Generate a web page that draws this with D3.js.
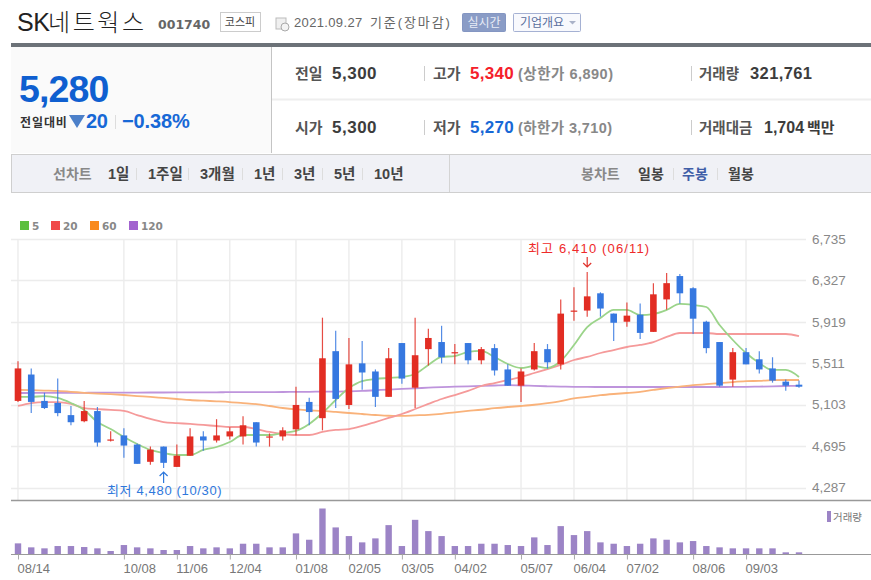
<!DOCTYPE html>
<html>
<head>
<meta charset="utf-8">
<script src="https://cdnjs.cloudflare.com/ajax/libs/d3/7.8.5/d3.min.js"></script>
<style>
  html, body { margin: 0; padding: 0; background: #fff; }
  svg { display: block; font-family: "Liberation Sans", "Noto Sans CJK KR", sans-serif; }
  svg text { font-family: "Liberation Sans", "Noto Sans CJK KR", sans-serif; }
  .domain { display: none; }
</style>
</head>
<body>
<div class="main"></div>
<script>
const w = 871;
const h = 580;

// weekly candles
const open = [5140,5400,5140,5120,5000,4940,5040,4750,4800,4710,4540,4690,4490,4600,4790,4750,4790,4790,4930,4780,4790,4860,5130,4970,5630,5100,5510,5430,5180,5710,5270,5650,5720,5610,5710,5540,5660,5450,5290,5450,5650,5500,6020,6030,6200,6000,5920,5990,5820,6140,6370,6250,5920,5720,5350,5620,5550,5460,5330,5300];
const high = [5530,5460,5220,5360,5090,5140,5080,4840,4870,4720,4690,4690,4710,4870,4840,4960,4880,4990,4930,4820,4880,5280,5170,5960,5830,5760,5730,5450,5660,5710,5960,5850,5880,5700,5710,5670,5700,5500,5460,5710,5700,6140,6260,6410,6210,6000,6110,6100,6300,6400,6390,6260,5930,5720,5660,5660,5630,5570,5350,5340];
const low = [5130,5020,5060,4990,4900,4930,4690,4740,4580,4520,4510,4480,4490,4600,4650,4730,4760,4710,4690,4690,4750,4800,4900,4850,5070,5060,5250,5080,5180,5310,5070,5490,5510,5500,5500,5500,5390,5290,5130,5440,5460,5450,5930,5970,5970,5730,5870,5750,5820,6040,6100,5800,5610,5280,5280,5500,5410,5320,5240,5270];
const close = [5460,5130,5070,5020,4930,5040,4730,4760,4700,4520,4660,4530,4600,4790,4750,4800,4840,4900,4730,4790,4850,5100,5030,5560,5160,5500,5420,5180,5560,5360,5590,5760,5570,5620,5540,5650,5440,5290,5430,5630,5520,6000,6030,6170,6050,5910,5980,5810,6190,6300,6200,5950,5660,5290,5620,5500,5450,5340,5290,5280];

const ma5 = [5179,5179,5188,5169,5119,5051,4932,4863,4785,4716,4657,4627,4607,4607,4657,4686,4735,4804,4804,4804,4824,4844,4913,5021,5149,5267,5336,5356,5366,5376,5405,5494,5573,5582,5622,5632,5573,5504,5464,5484,5464,5533,5691,5868,5957,6036,6036,5986,5996,6036,6095,6085,6065,5888,5740,5612,5513,5445,5445,5376];
const ma20 = [5090,5119,5129,5129,5110,5070,5060,5051,5041,5001,4962,4932,4922,4913,4903,4893,4883,4883,4863,4834,4814,4804,4804,4834,4854,4863,4893,4932,4972,5011,5060,5110,5159,5198,5238,5287,5316,5346,5376,5415,5454,5494,5543,5573,5612,5641,5671,5691,5720,5770,5809,5809,5809,5799,5799,5799,5799,5799,5799,5779];
const ma60 = [5248,5246,5242,5238,5230,5220,5212,5206,5198,5188,5179,5169,5159,5149,5142,5136,5129,5119,5108,5090,5070,5056,5048,5041,5031,5021,5011,5001,4994,4993,4998,5003,5013,5028,5041,5053,5068,5080,5090,5102,5119,5139,5165,5180,5196,5208,5218,5230,5248,5265,5280,5295,5305,5316,5326,5334,5338,5344,5346,5346];
const ma120 = [5218,5218,5219,5219,5220,5220,5221,5221,5222,5222,5223,5223,5224,5224,5225,5225,5226,5226,5227,5227,5228,5229,5230,5231,5232,5234,5238,5245,5252,5258,5264,5270,5276,5280,5284,5288,5292,5295,5292,5288,5284,5281,5279,5278,5277,5277,5277,5277,5277,5277,5277,5277,5277,5277,5278,5279,5281,5284,5287,5288];

// volume in thousands of shares
const volume = [2030,1270,1080,1520,1520,1330,1080,570,1710,1270,1080,760,760,1520,1080,1270,1080,1960,1960,1270,1270,3930,2720,8680,5070,3420,2220,2980,5510,1520,6520,4370,3420,1520,1520,1960,1960,1710,1520,3170,1710,5320,3610,4370,2220,1960,1520,1960,2980,2720,2220,2470,1520,1270,1080,1080,1080,1080,320,320];

const priceTicks = [6735,6327,5919,5511,5103,4695,4287];
const dateIndex = [0,8,12,16,21,25,29,33,38,42,46,51,55];
const dateLabels = ['08/14','10/08','11/06','12/04','01/08','02/05','03/05','04/02','05/07','06/04','07/02','08/06','09/03'];

const legendNames = ['5','20','60','120'];
const legendColors = ['#5cbf3f','#f04a4a','#f98a1c','#a263cf'];
const lineColors = ['#9bd48a','#f59a9a','#f9b27a','#be94dc'];
const periods = ['1일','1주일','3개월','1년','3년','5년','10년'];
const candleTypes = ['일봉','주봉','월봉'];

const RED = '#e22d23';
const BLUE = '#3678e0';

const svg = d3.select('.main').append('svg').attr('width', w).attr('height', h);

function label(x, y, str, size, fill, weight, anchor) {
  return svg.append('text')
    .attr('x', x).attr('y', y)
    .attr('font-size', size)
    .attr('fill', fill)
    .attr('font-weight', weight || 'normal')
    .attr('text-anchor', anchor || 'start')
    .text(str);
}
function box(x, y, bw, bh, fill, stroke) {
  return svg.append('rect')
    .attr('x', x).attr('y', y).attr('width', bw).attr('height', bh)
    .attr('fill', fill).attr('stroke', stroke || 'none');
}
function rule(x1, y1, x2, y2, stroke, sw) {
  return svg.append('line')
    .attr('x1', x1).attr('y1', y1).attr('x2', x2).attr('y2', y2)
    .attr('stroke', stroke).attr('stroke-width', sw || 1);
}

// title row
const title = label(17, 31, '', 24, '#222', 300);
title.append('tspan').attr('letter-spacing', -0.4).attr('font-size', 25).text('SK');
title.append('tspan').attr('x', 48).attr('letter-spacing', 2.6).text('네트웍스');
label(158, 29, '001740', 12.5, '#666', 'bold').style('font-family', 'DejaVu Sans');
box(220.5, 12.5, 40, 19, '#fff', '#ccc');
label(240, 26, '코스피', 11, '#444', 'normal', 'middle');
box(276, 18, 10, 11, '#f0f0f0', '#bbb');
svg.append('circle').attr('cx', 285).attr('cy', 27).attr('r', 4).attr('fill', '#f4f4f4').attr('stroke', '#aaa');
label(294, 27, '2021.09.27', 13, '#666').attr('letter-spacing', 0.35);
label(370, 27, '기준(장마감)', 13, '#666').attr('letter-spacing', 1.9);
box(462.5, 13.5, 43, 18, '#8a9cc6', '#8496c2').attr('rx', 1);
label(484, 27, '실시간', 12, '#e8ecf6', 'normal', 'middle');
box(513.5, 13.5, 67, 18, '#f8f9fd', '#a5b1d3').attr('rx', 1);
label(520, 27, '기업개요', 12, '#5a6f9e');
svg.append('path').attr('d', 'M569 21 h7 l-3.5 3.5 z').attr('fill', '#aab2c8');

// quote panel
box(11, 47, 260, 106, '#fafafa');
box(11, 43, 860, 4, '#6c7278');
rule(271.5, 47, 271.5, 153, '#c4c4c4');
rule(272, 99.5, 871, 99.5, '#eee', 2);
label(19, 102, '5,280', 37.5, '#0f5fd0', 'bold').attr('letter-spacing', -0.9);
label(20, 127, '전일대비', 12, '#333', 'bold').attr('letter-spacing', 0.9);
svg.append('path').attr('d', 'M69 115 h16 l-8 13 z').attr('fill', '#4c80c9');
label(86, 128, '20', 20, '#1768d6', 'bold').attr('letter-spacing', -0.4);
rule(115.5, 115, 115.5, 129, '#ddd');
label(122, 128, '−0.38%', 20, '#1768d6', 'bold').attr('letter-spacing', -0.1);

label(295, 79, '전일', 15, '#555', 'bold');
label(332, 79, '5,300', 17, '#3c3c3c', 'bold').attr('letter-spacing', 0.5);
label(295, 133, '시가', 15, '#555', 'bold');
label(332, 133, '5,300', 17, '#3c3c3c', 'bold').attr('letter-spacing', 0.5);
rule(424.5, 66, 424.5, 81, '#ccc');
rule(424.5, 120, 424.5, 135, '#ccc');
label(433, 79, '고가', 15, '#555', 'bold');
label(470, 79, '5,340', 17, '#f5202a', 'bold').attr('letter-spacing', 0.3);
label(518, 79, '(상한가 6,890)', 14.5, '#888', 'bold').attr('letter-spacing', 0.5);
label(433, 133, '저가', 15, '#555', 'bold');
label(470, 133, '5,270', 17, '#1768d6', 'bold').attr('letter-spacing', 0.3);
label(518, 133, '(하한가 3,710)', 14.5, '#888', 'bold').attr('letter-spacing', 0.4);
rule(691.5, 66, 691.5, 81, '#ccc');
rule(691.5, 120, 691.5, 135, '#ccc');
label(699, 79, '거래량', 14.5, '#555', 'bold');
label(750, 79, '321,761', 16.5, '#3c3c3c', 'bold').attr('letter-spacing', 0.4);
label(699, 133, '거래대금', 14.5, '#555', 'bold');
label(764, 133, '1,704', 16, '#3c3c3c', 'bold');
label(807, 133, '백만', 15, '#3c3c3c', 'bold');

// chart type bar
box(11.5, 154.5, 860, 38, '#f0f1f6', '#cfcfcf');
rule(449.5, 155, 449.5, 192, '#d4d4d4');
label(53, 179, '선차트', 14, '#888', 'bold');
const periodX = [108, 148, 200, 254, 294, 334, 374];
periods.forEach((p, i) => {
  label(periodX[i], 179, p, 14.5, '#444', 'bold');
  if (i < periods.length - 1) rule(periodX[i + 1] - 11.5, 168, periodX[i + 1] - 11.5, 180, '#ddd');
});
label(581, 179, '봉차트', 14, '#888', 'bold');
const candleX = [638, 682, 728];
candleTypes.forEach((p, i) => {
  label(candleX[i], 179, p, 14, i === 1 ? '#3f5ea8' : '#444', 'bold');
  if (i < 2) rule(candleX[i] + 35.5, 168, candleX[i] + 35.5, 180, '#ddd');
});

// legend
const legendX = [20, 51, 90, 129];
legendNames.forEach((n, i) => {
  box(legendX[i], 221, 9, 9, legendColors[i]);
  label(legendX[i] + 12, 230, n, 10.5, '#888', 'bold').style('font-family', 'DejaVu Sans');
});

// scales
const xScale = d3.scaleLinear().domain([0, 59]).range([18, 799]);
const yScale = d3.scaleLinear().domain([4287, 6735]).range([487.5, 239]);
const vScale = d3.scaleLinear().domain([0, 8680]).range([554, 508.5]);

// grid
const grid = svg.append('g');
grid.selectAll('.hgrid').data(priceTicks).enter().append('line')
  .attr('x1', 11).attr('x2', 806)
  .attr('y1', d => Math.round(yScale(d)) + 0.5).attr('y2', d => Math.round(yScale(d)) + 0.5)
  .attr('stroke', '#ececec').attr('stroke-width', 1.4);
grid.selectAll('.vgrid').data(dateIndex).enter().append('line')
  .attr('x1', d => xScale(d)).attr('x2', d => xScale(d))
  .attr('y1', 239).attr('y2', 500)
  .attr('stroke', '#ececec').attr('stroke-width', 1.4);

// price axis
const yAxis = d3.axisRight(yScale).tickValues(priceTicks).tickSize(0).tickPadding(0).tickFormat(d3.format(','));
svg.append('g').attr('transform', 'translate(812,0)').call(yAxis)
  .call(g => g.selectAll('text').attr('font-size', 13.5).attr('fill', '#888').attr('x', 0))
  .attr('font-family', null);

// moving averages
const lineGen = d3.line().x((d, i) => xScale(i)).y(d => yScale(d)).curve(d3.curveMonotoneX);
[ma120, ma60, ma20, ma5].forEach((s, i) => {
  svg.append('path').datum(s).attr('d', lineGen).attr('fill', 'none')
    .attr('stroke', [lineColors[3], lineColors[2], lineColors[1], lineColors[0]][i])
    .attr('stroke-width', 1.8);
});

// candles
const candles = open.map((o, i) => ({ i, o, c: close[i], hi: high[i], lo: low[i] }));
const colorOf = d => (d.c >= d.o ? RED : BLUE);
const cg = svg.append('g');
cg.selectAll('.wick').data(candles).enter().append('line')
  .attr('x1', d => xScale(d.i)).attr('x2', d => xScale(d.i))
  .attr('y1', d => yScale(d.hi)).attr('y2', d => yScale(d.lo))
  .attr('stroke', colorOf).attr('stroke-width', 1.2).attr('stroke-opacity', 0.85);
cg.selectAll('.body').data(candles).enter().append('rect')
  .attr('x', d => xScale(d.i) - 3.3).attr('width', 6.6)
  .attr('y', d => yScale(Math.max(d.o, d.c)))
  .attr('height', d => Math.max(1.2, Math.abs(yScale(d.o) - yScale(d.c))))
  .attr('fill', colorOf);

// high and low notes
label(528, 253, '최고 6,410 (06/11)', 13, '#ee2a2a').attr('letter-spacing', 1.15);
svg.append('path').attr('d', `M${xScale(43)} 257 v10 m-4 -4 l4 4 l4 -4`).attr('fill', 'none').attr('stroke', '#e0332c').attr('stroke-width', 1.2);
label(107, 495, '최저 4,480 (10/30)', 13, '#2f78dc').attr('letter-spacing', 0.65);
svg.append('path').attr('d', `M${xScale(11)} 483 v-11 m-4 4 l4 -4 l4 4`).attr('fill', 'none').attr('stroke', '#2f78dc').attr('stroke-width', 1.2);

// volume panel
rule(11, 500.5, 871, 500.5, '#999', 1.4);
svg.append('g').selectAll('rect').data(volume).enter().append('rect')
  .attr('x', (d, i) => xScale(i) - 3.2).attr('width', 6.4)
  .attr('y', d => vScale(d))
  .attr('height', d => vScale(0) - vScale(d))
  .attr('fill', '#9c84c6');
rule(11, 554.5, 871, 554.5, '#999', 1.2);
box(827, 511, 4, 11, '#9c84c6');
label(833, 521, '거래량', 10.5, '#777');

// date axis
const xAxis = d3.axisBottom(xScale).tickValues(dateIndex).tickSize(5).tickPadding(5)
  .tickFormat((d, i) => dateLabels[i]);
svg.append('g').attr('transform', 'translate(0,554.5)').call(xAxis)
  .call(g => g.selectAll('line').attr('stroke', '#aaa'))
  .call(g => g.selectAll('text').attr('font-size', 13).attr('fill', '#777').attr('text-anchor', 'start').attr('x', -1).attr('y', 9));
</script>
</body>
</html>
